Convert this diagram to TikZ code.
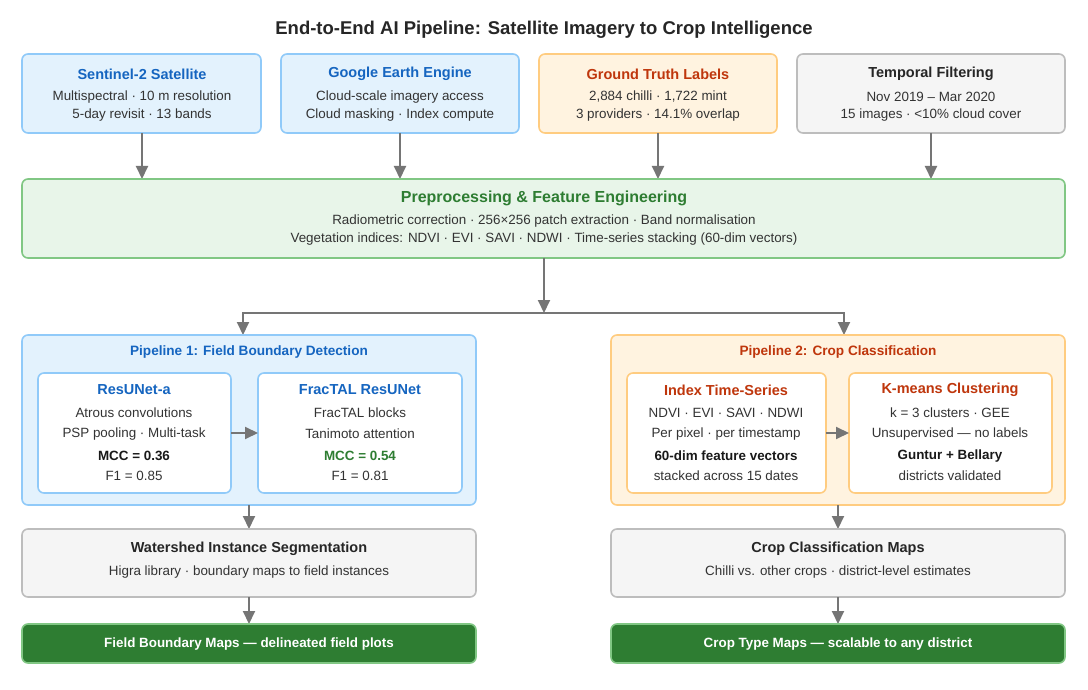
\documentclass[tikz,border=0pt]{standalone}
\usepackage{fontspec}
\setmainfont{Liberation Sans}
\usetikzlibrary{arrows.meta}
\definecolor{bluefill}{HTML}{E3F2FD}
\definecolor{blueline}{HTML}{90CAF9}
\definecolor{bluetext}{HTML}{1565C0}
\definecolor{orfill}{HTML}{FFF3E0}
\definecolor{orline}{HTML}{FFCC80}
\definecolor{ortext}{HTML}{BF360C}
\definecolor{grfill}{HTML}{F5F5F5}
\definecolor{grline}{HTML}{BDBDBD}
\definecolor{gnfill}{HTML}{E8F5E9}
\definecolor{gnline}{HTML}{81C784}
\definecolor{gntext}{HTML}{2E7D32}
\definecolor{arr}{HTML}{757575}
\definecolor{body}{HTML}{333333}
\tikzset{
  box/.style={draw, rounded corners=6pt, line width=1.6pt, inner sep=0pt},
  bluebox/.style={box, fill=bluefill, draw=blueline},
  orbox/.style={box, fill=orfill, draw=orline},
  grbox/.style={box, fill=grfill, draw=grline},
  gnbox/.style={box, fill=gnfill, draw=gnline},
  whbox/.style={box, fill=white},
  outbox/.style={box, fill=gntext, draw=gnline},
  head/.style={font=\bfseries\fontsize{14.5}{17}\selectfont},
  bold/.style={font=\bfseries\fontsize{13.4}{16}\selectfont},
  txt/.style={font=\fontsize{13.4}{16}\selectfont, text=body},
  flow/.style={-{Triangle[length=13pt,width=12pt]}, draw=arr, line width=2pt},
  link/.style={draw=arr, line width=2pt}
}
\begin{document}
\begin{tikzpicture}[x=1pt,y=-1pt]
\useasboundingbox[fill=white] (0,0) rectangle (1088,690);
\node[font=\bfseries\fontsize{18.5}{22}\selectfont, text=black!85] (title) at (544,30) {End-to-End AI Pipeline: Satellite Imagery to Crop Intelligence};
% top row
\path[bluebox] (22,54) rectangle (261,133);
\path[bluebox] (281,54) rectangle (519,133);
\path[orbox] (539,54) rectangle (777,133);
\path[grbox] (797,54) rectangle (1065,133);
\node[head, text=bluetext] (s2h) at (142,74) {Sentinel-2 Satellite};
\node[txt] (s2a) at (142,97) {Multispectral · 10 m resolution};
\node[txt] (s2b) at (142,115) {5-day revisit · 13 bands};
\node[head, text=bluetext] (geh) at (400,74) {Google Earth Engine};
\node[txt] (gea) at (400,97) {Cloud-scale imagery access};
\node[txt] (geb) at (400,115) {Cloud masking · Index compute};
\node[head, text=ortext] (gth) at (658,74) {Ground Truth Labels};
\node[txt] (gta) at (658,97) {2,884 chilli · 1,722 mint};
\node[txt] (gtb) at (658,115) {3 providers · 14.1\% overlap};
\node[head, text=black!85] (tfh) at (931,74) {Temporal Filtering};
\node[txt] (tfa) at (931,97) {Nov 2019 – Mar 2020};
\node[txt] (tfb) at (931,115) {15 images · <10\% cloud cover};
% arrows to preprocessing
\foreach \x in {142,400,658,931}
  \draw[flow] (\x,133) -- (\x,179);
% preprocessing
\path[gnbox] (22,179) rectangle (1065,258);
\node[text=gntext, font=\bfseries\fontsize{16}{19}\selectfont] (pph) at (544,198) {Preprocessing \& Feature Engineering};
\node[txt] (ppa) at (544,221) {Radiometric correction · 256×256 patch extraction · Band normalisation};
\node[txt] (ppb) at (544,239) {Vegetation indices: NDVI · EVI · SAVI · NDWI · Time-series stacking (60-dim vectors)};
% split
\coordinate (split) at (544,313);
\draw[flow] (544,258) -- (split);
\draw[link] (243,313) -- (844,313);
\draw[flow] (243,312) -- (243,335);
\draw[flow] (844,312) -- (844,335);
% pipeline 1
\path[bluebox] (22,335) rectangle (476,505);
\node[text=bluetext, font=\bfseries\fontsize{13.6}{16}\selectfont] (p1h) at (249,352) {Pipeline 1: Field Boundary Detection};
\path[whbox, draw=blueline] (38,373) rectangle (231,493);
\path[whbox, draw=blueline] (258,373) rectangle (462,493);
\node[head, text=bluetext] (rah) at (134,390) {ResUNet-a};
\node[txt] (raa) at (134,413) {Atrous convolutions};
\node[txt] (rab) at (134,434) {PSP pooling · Multi-task};
\node[bold, text=black!90] (rac) at (134,456) {MCC = 0.36};
\node[txt] (rad) at (134,476) {F1 = 0.85};
\node[head, text=bluetext] (fth) at (360,390) {FracTAL ResUNet};
\node[txt] (fta) at (360,413) {FracTAL blocks};
\node[txt] (ftb) at (360,434) {Tanimoto attention};
\node[bold, text=gntext] (ftc) at (360,456) {MCC = 0.54};
\node[txt] (ftd) at (360,476) {F1 = 0.81};
\draw[flow] (231,433) -- (258,433);
% pipeline 2
\path[orbox] (611,335) rectangle (1065,505);
\node[text=ortext, font=\bfseries\fontsize{13.6}{16}\selectfont] (p2h) at (838,352) {Pipeline 2: Crop Classification};
\path[whbox, draw=orline] (627,373) rectangle (826,493);
\path[whbox, draw=orline] (849,373) rectangle (1052,493);
\node[head, text=ortext] (ith) at (726,390) {Index Time-Series};
\node[txt] (ita) at (726,413) {NDVI · EVI · SAVI · NDWI};
\node[txt] (itb) at (726,434) {Per pixel · per timestamp};
\node[bold, text=black!90] (itc) at (726,456) {60-dim feature vectors};
\node[txt] (itd) at (726,476) {stacked across 15 dates};
\node[head, text=ortext] (kmh) at (950,390) {K-means Clustering};
\node[txt] (kma) at (950,413) {k = 3 clusters · GEE};
\node[txt] (kmb) at (950,434) {Unsupervised — no labels};
\node[bold, text=black!90] (kmc) at (950,456) {Guntur + Bellary};
\node[txt] (kmd) at (950,476) {districts validated};
\draw[flow] (826,433) -- (849,433);
% lower boxes
\draw[flow] (249,505) -- (249,529);
\draw[flow] (838,505) -- (838,529);
\path[grbox] (22,529) rectangle (476,597);
\path[grbox] (611,529) rectangle (1065,597);
\node[head, text=black!85] (wsh) at (249,549) {Watershed Instance Segmentation};
\node[txt] (wsa) at (249,572) {Higra library · boundary maps to field instances};
\node[head, text=black!85] (cmh) at (838,549) {Crop Classification Maps};
\node[txt] (cma) at (838,572) {Chilli vs. other crops · district-level estimates};
\draw[flow] (249,597) -- (249,624);
\draw[flow] (838,597) -- (838,624);
\path[outbox] (22,624) rectangle (476,663);
\path[outbox] (611,624) rectangle (1065,663);
\node[bold, text=white] (fbm) at (249,644) {Field Boundary Maps — delineated field plots};
\node[bold, text=white] (ctm) at (838,644) {Crop Type Maps — scalable to any district};
\end{tikzpicture}
\end{document}
